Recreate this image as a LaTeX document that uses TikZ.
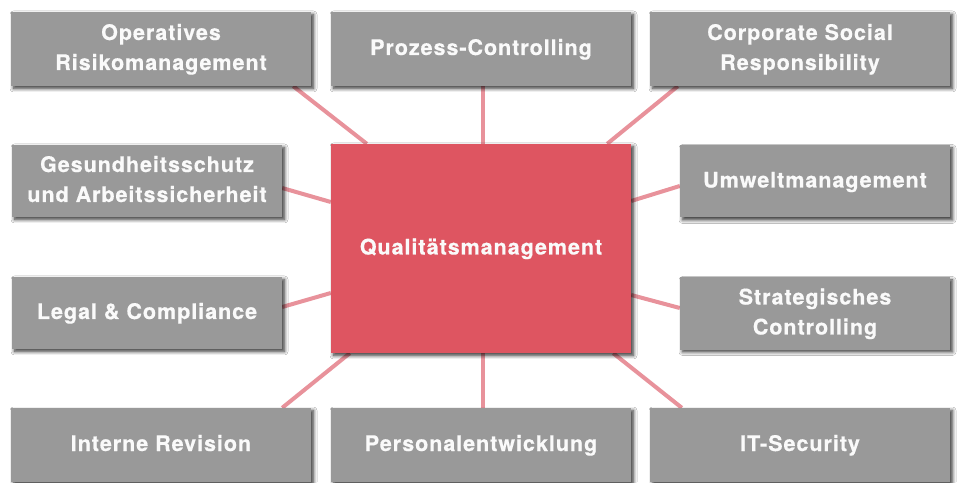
\documentclass[tikz,border=0pt]{standalone}
\usepackage{fontspec}
\setmainfont{TeX Gyre Heros}[LetterSpace=4.5, BoldFeatures={FakeBold=0.5}]
\usetikzlibrary{shadows.blur,backgrounds}
\definecolor{boxgray}{RGB}{153,153,153}
\definecolor{qmred}{RGB}{222,85,97}
\definecolor{linkpink}{RGB}{232,146,155}
\definecolor{txt}{RGB}{250,250,250}
\newcommand{\lbl}[1]{\raisebox{-7pt}{\begin{tabular}{@{}c@{}}#1\end{tabular}}}
\tikzset{
  shad/.style={blur shadow={shadow xshift=2.5pt, shadow yshift=-2.5pt, shadow blur steps=8, shadow blur radius=3.5pt, shadow opacity=80}},
  topic/.style={rectangle, fill=boxgray, shad, inner sep=0pt, minimum width=300pt, minimum height=74pt,
    text=txt, font=\fontsize{21.5}{30}\selectfont\bfseries},
  sidetopic/.style={topic, minimum width=270pt, minimum height=72pt},
  core/.style={rectangle, fill=qmred, shad, inner sep=0pt, minimum width=300pt, minimum height=209pt,
    text=txt, font=\fontsize{21.5}{30}\selectfont\bfseries},
  link/.style={draw=linkpink, line width=4pt}
}
\begin{document}
\begin{tikzpicture}[x=1pt,y=1pt]
\useasboundingbox (0,0) rectangle (960,482);
\node[core] (c) at (481,233.5) {\lbl{Qualitätsmanagement}};
\node[topic] (tl) at (161,433) {\lbl{Operatives\\Risikomanagement}};
\node[topic] (tm) at (481,433) {\lbl{Prozess-Controlling}};
\node[topic] (tr) at (800,433) {\lbl{Corporate Social\\Responsibility}};
\node[sidetopic] (ml1) at (147,301) {\lbl{Gesundheitsschutz\\und Arbeitssicherheit}};
\node[sidetopic] (mr1) at (815,300.5) {\lbl{Umweltmanagement}};
\node[sidetopic] (ml2) at (147,169) {\lbl{Legal \& Compliance}};
\node[sidetopic] (mr2) at (815,168.5) {\lbl{Strategisches\\Controlling}};
\node[topic] (bl) at (161,37) {\lbl{Interne Revision}};
\node[topic] (bm) at (481,37) {\lbl{Personalentwicklung}};
\node[topic] (br) at (800,37) {\lbl{IT-Security}};
\begin{scope}[on background layer]
\fill[white] (0,0) rectangle (960,482);
\draw[link] ([xshift=-18pt]tl.south east) -- ([xshift=36pt]c.north west);
\draw[link] ([xshift=2pt]tm.south) -- ([xshift=2pt]c.north);
\draw[link] ([xshift=28pt]tr.south west) -- ([xshift=-24pt]c.north east);
\draw[link] ([yshift=-7pt]ml1.east) -- ([yshift=46.5pt]c.west);
\draw[link] ([yshift=6pt]ml2.east) -- ([yshift=-44.5pt]c.west);
\draw[link] ([yshift=-4.5pt]mr1.west) -- ([yshift=47.5pt]c.east);
\draw[link] ([yshift=5.5pt]mr2.west) -- ([yshift=-46.5pt]c.east);
\draw[link] ([xshift=-29pt]bl.north east) -- ([xshift=19pt]c.south west);
\draw[link] ([xshift=2pt]bm.north) -- ([xshift=2pt]c.south);
\draw[link] ([xshift=32pt]br.north west) -- ([xshift=-18pt]c.south east);
\end{scope}
\end{tikzpicture}
\end{document}
